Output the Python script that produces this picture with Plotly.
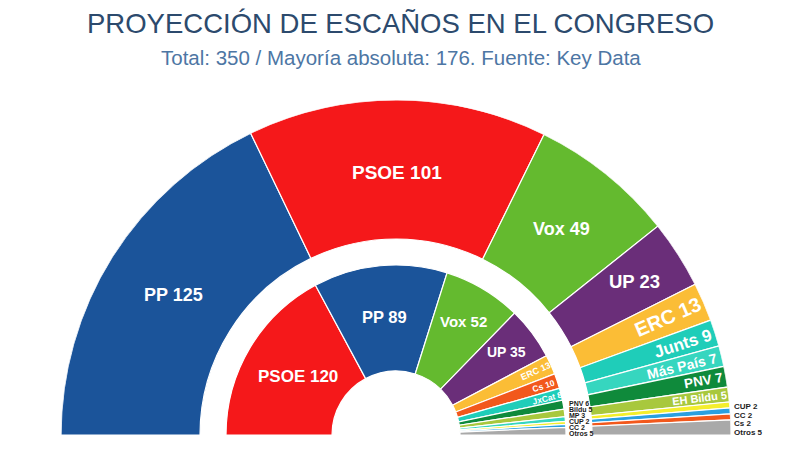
import math
import plotly.graph_objects as go

# ---------------- data ----------------
TOTAL_SEATS = 350
TITLE = "PROYECCIÓN DE ESCAÑOS EN EL CONGRESO"
SUBTITLE = "Total: 350 / Mayoría absoluta: 176. Fuente: Key Data"

outer_parties = ["PP", "PSOE", "Vox", "UP", "ERC", "Junts", "Más País", "PNV",
                 "EH Bildu", "CUP", "CC", "Cs", "Otros"]
outer_seats = [125, 101, 49, 23, 13, 9, 7, 7, 5, 2, 2, 2, 5]

inner_parties = ["PSOE", "PP", "Vox", "UP", "ERC", "Cs", "JxCat", "PNV",
                 "Bildu", "MP", "CUP", "CC", "Otros"]
inner_seats = [120, 89, 52, 35, 13, 10, 8, 6, 5, 3, 2, 2, 5]

# ---------------- styles ----------------
party_colors = {
    "PP": "#1b549a", "PSOE": "#f5181a", "Vox": "#64ba2f", "UP": "#6a2e79",
    "ERC": "#fbbd36", "Junts": "#1fcdb9", "JxCat": "#1fcdb9",
    "Más País": "#36d6bf", "MP": "#36d6bf", "PNV": "#0f8a3b",
    "EH Bildu": "#a8c83d", "Bildu": "#a8c83d", "CUP": "#f4ee2c",
    "CC": "#2aa0e0", "Cs": "#f2581c", "Otros": "#a9a9a9",
}

PAGE_MARGIN = 8            # default <body> margin of the written page
W, H = 800 - 2 * PAGE_MARGIN, 450 - 2 * PAGE_MARGIN
CX, CY = 396 - PAGE_MARGIN, 435 - PAGE_MARGIN   # hemicycle centre (figure px)
R_MAX = 335                # outer radius in px (radial axis in px units)
INNER_RING = (64, 170)
OUTER_RING = (196, 335)

# label styling: font sizes, radial fraction inside ring, rotated or not
outer_label_size = [18, 19, 18, 18.5, 20, 17, 14, 13.5, 11]
outer_label_frac = [0.48, 0.48, 0.49, 0.63, 0.72, 0.76, 0.71, 0.84, 0.79]
outer_label_rot = [False, False, False, False, True, True, True, True, True]
inner_label_size = [17, 16.5, 15, 14, 9, 8.5, 8.5]
inner_label_frac = [0.47, 0.51, 0.64, 0.70, 0.85, 0.86, 0.87]
inner_label_rot = [False, False, False, False, True, True, True]
outer_stack_size = 8
inner_stack_size = 7

LABEL_FONT = "Arial, Liberation Sans, sans-serif"
TITLE_FONT = "Arial, Liberation Sans, sans-serif"


def seat_angles(seats):
    centers, widths, starts = [], [], []
    cum = 0
    for s in seats:
        starts.append(cum * 180 / TOTAL_SEATS)
        widths.append(s * 180 / TOTAL_SEATS)
        centers.append((cum + s / 2) * 180 / TOTAL_SEATS)
        cum += s
    return centers, widths, starts


def to_paper(r, theta):
    # theta measured clockwise from the left (as the angular axis)
    phi = math.radians(180 - theta)
    x_px = CX + r * math.cos(phi)
    y_px = CY - r * math.sin(phi)
    return x_px / W, (H - y_px) / H


fig = go.Figure()
annotations = []

rings = [
    (inner_parties, inner_seats, INNER_RING, inner_label_size, inner_label_frac,
     inner_label_rot, inner_stack_size),
    (outer_parties, outer_seats, OUTER_RING, outer_label_size, outer_label_frac,
     outer_label_rot, outer_stack_size),
]

for parties, seats, (r0, r1), lsize, lfrac, lrot, ssize in rings:
    centers, widths, starts = seat_angles(seats)
    fig.add_trace(go.Barpolar(
        theta=centers, width=widths, base=[r0] * len(seats),
        r=[r1 - r0] * len(seats),
        marker=dict(color=[party_colors[p] for p in parties],
                    line=dict(color="white", width=1.2)),
        text=[f"{p} {s}" for p, s in zip(parties, seats)],
        hoverinfo="text", showlegend=False,
    ))
    n_in = len(lsize)
    # inside labels
    for i in range(n_in):
        r = r0 + lfrac[i] * (r1 - r0)
        x, y = to_paper(r, centers[i])
        ang = -(180 - centers[i]) if lrot[i] else 0
        annotations.append(dict(
            x=x, y=y, xref="paper", yref="paper", showarrow=False,
            text=f"{parties[i]} {seats[i]}", textangle=ang,
            xanchor="center", yanchor="middle",
            font=dict(family=LABEL_FONT, size=lsize[i], color="white", weight=700),
        ))
    # stacked labels for the tiny slices, to the right of the ring
    n_st = len(seats) - n_in
    elev = 180 - starts[n_in]
    y_top = CY - r1 * math.sin(math.radians(elev))
    step = (CY + 2 - y_top) / n_st
    for k in range(n_st):
        i = n_in + k
        y_px = y_top + (k + 0.5) * step
        annotations.append(dict(
            x=(CX + r1 + 1) / W, y=(H - y_px) / H, xref="paper", yref="paper",
            showarrow=False, text=f"{parties[i]} {seats[i]}",
            xanchor="left", yanchor="middle",
            font=dict(family=LABEL_FONT, size=ssize, color="#1c1c1c", weight=700),
        ))

annotations.append(dict(
    x=(400 - PAGE_MARGIN) / W, y=(H - (23 - PAGE_MARGIN)) / H, xref="paper",
    yref="paper", showarrow=False, text=TITLE, xanchor="center", yanchor="middle",
    font=dict(family=TITLE_FONT, size=27.5, color="#2c4a6d"),
))
annotations.append(dict(
    x=(401 - PAGE_MARGIN) / W, y=(H - (58 - PAGE_MARGIN)) / H, xref="paper",
    yref="paper", showarrow=False, text=SUBTITLE, xanchor="center", yanchor="middle",
    font=dict(family=TITLE_FONT, size=20.5, color="#4d76a4"),
))

fig.update_layout(
    width=W, height=H,
    margin=dict(l=0, r=0, t=0, b=0),
    paper_bgcolor="white",
    annotations=annotations,
    polar=dict(
        domain=dict(x=[(CX - R_MAX) / W, (CX + R_MAX) / W],
                    y=[(H - CY) / H, (H - CY + R_MAX) / H]),
        sector=[0, 180],
        hole=0,
        bgcolor="white",
        radialaxis=dict(range=[0, R_MAX], visible=False),
        angularaxis=dict(rotation=180, direction="clockwise", visible=False),
    ),
)

fig.write_html("out.html")
